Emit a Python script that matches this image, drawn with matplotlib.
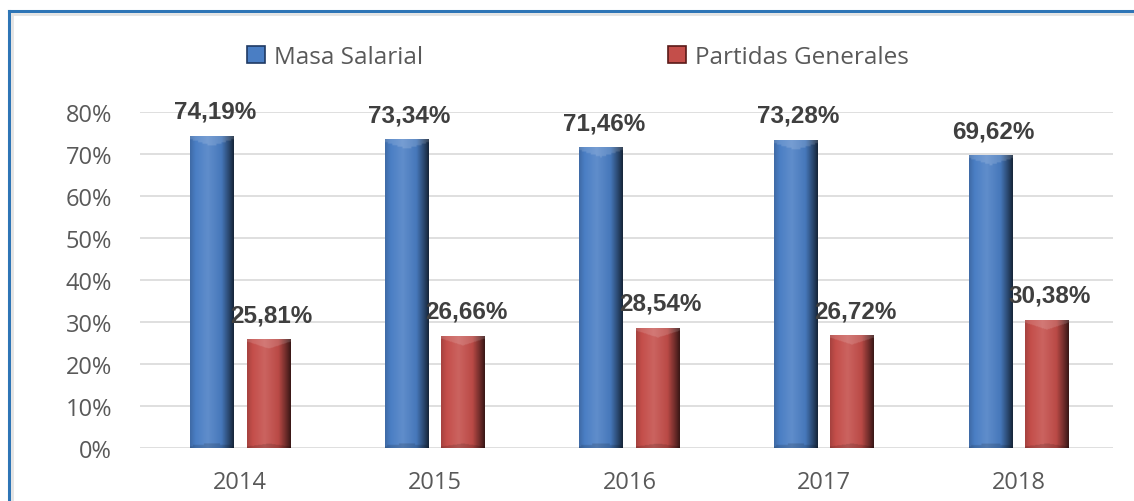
import numpy as np
import matplotlib
matplotlib.use("Agg")
import matplotlib.pyplot as plt
from matplotlib.colors import LinearSegmentedColormap, to_rgb
from matplotlib.patches import Patch
from matplotlib.lines import Line2D

# ---- data ----
years = ["2014", "2015", "2016", "2017", "2018"]
masa_salarial = [74.19, 73.34, 71.46, 73.28, 69.62]
partidas_generales = [25.81, 26.66, 28.54, 26.72, 30.38]
series_names = ["Masa Salarial", "Partidas Generales"]
y_ticks = [0, 10, 20, 30, 40, 50, 60, 70, 80]

BLUE = "#4A7EC4"
RED = "#C44E4A"
TXT = "#595959"
LBL = "#3F3F3F"

W, H = 1134, 502
fig = plt.figure(figsize=(W / 100, H / 100), dpi=100)
ax = fig.add_axes([140 / W, (H - 449) / H, 973 / W, 336 / H])

x = np.arange(len(years))
bw = 0.225
off = 0.145
bars1 = ax.bar(x - off, masa_salarial, bw, color=BLUE, zorder=2)
bars2 = ax.bar(x + off, partidas_generales, bw, color=RED, zorder=2)


def shade(c, f):
    r = np.array(to_rgb(c))
    if f >= 1:
        return tuple(r + (1 - r) * (f - 1))
    return tuple(r * f)


def make_cmap(c):
    stops = [(0.0, shade(c, 0.85)), (0.12, shade(c, 1.0)), (0.4, shade(c, 1.12)),
             (0.72, shade(c, 0.95)), (0.9, shade(c, 0.55)), (1.0, shade(c, 0.3))]
    return LinearSegmentedColormap.from_list("g", stops)


def gradient_bars(bars, c):
    cmap = make_cmap(c)
    ncol = 60
    t = np.linspace(0, 1, ncol)
    base = cmap(t)[:, :3]
    for b in bars:
        x0, y0, w, h = b.get_x(), b.get_y(), b.get_width(), b.get_height()
        nrow = 200
        yy = np.linspace(y0 + h, y0, nrow)  # top row first
        img = np.tile(base, (nrow, 1, 1))
        d = (y0 + h) - yy
        bev = 2.2
        prof = 1 - np.abs(2 * t - 1)
        mask = d[:, None] < bev * (0.25 + 0.75 * prof[None, :])
        img[mask] = img[mask] + (1 - img[mask]) * 0.14
        dbot = yy - y0
        maskb = dbot[:, None] < 1.0 * (0.3 + 0.7 * prof[None, :])
        img[maskb] = img[maskb] * 0.85
        ax.imshow(img, extent=[x0, x0 + w, y0, y0 + h], aspect="auto",
                  zorder=2.5, interpolation="bilinear")


gradient_bars(bars1, BLUE)
gradient_bars(bars2, RED)


def fmt(v):
    return f"{v:.2f}%".replace(".", ",")


for bars, vals in ((bars1, masa_salarial), (bars2, partidas_generales)):
    for b, v in zip(bars, vals):
        ax.annotate(fmt(v), (b.get_x() + b.get_width() / 2, v),
                    xytext=(2, 18), textcoords="offset points",
                    ha="center", va="center", fontsize=17.5, fontweight="bold",
                    color=LBL, family="Liberation Sans", zorder=4)

ax.set_xlim(-0.515, len(years) - 0.515)
ax.set_ylim(0, 80)
ax.set_yticks(y_ticks)
ax.set_yticklabels([f"{v}%" for v in y_ticks])
ax.set_xticks(x)
ax.set_xticklabels(years)
ax.tick_params(axis="both", length=0, colors=TXT, labelsize=17)
ax.tick_params(axis="y", pad=20)
ax.tick_params(axis="x", pad=16)
for lab in ax.get_xticklabels() + ax.get_yticklabels():
    lab.set_family("Open Sans")
ax.grid(axis="y", color="#D9D9D9", linewidth=1.2, zorder=0)
ax.set_axisbelow(True)
for s in ax.spines.values():
    s.set_visible(False)

handles = [Patch(facecolor=BLUE, edgecolor="#1F3A63", linewidth=1.2),
           Patch(facecolor=RED, edgecolor="#5A1A18", linewidth=1.2)]
fig.legend(handles, series_names, loc="center", bbox_to_anchor=(578 / W, 1 - 58 / H),
           ncol=2, frameon=False, handlelength=0.72, handleheight=0.72,
           handletextpad=0.37, columnspacing=10.1, labelcolor=TXT,
           prop={"family": "Open Sans", "size": 17.5})

# figure border (blue frame with soft gray inner shadow)
fig.add_artist(Line2D([8.5 / W, 8.5 / W], [0, 1 - 12 / H], transform=fig.transFigure,
                      color="#2E75B6", linewidth=2.2))
fig.add_artist(Line2D([8.5 / W, 1], [1 - 12 / H, 1 - 12 / H], transform=fig.transFigure,
                      color="#2E75B6", linewidth=2.2))
fig.add_artist(Line2D([11.5 / W, 11.5 / W], [0, 1 - 15 / H], transform=fig.transFigure,
                      color="#E3E3E3", linewidth=2.0))
fig.add_artist(Line2D([11.5 / W, 1], [1 - 15 / H, 1 - 15 / H], transform=fig.transFigure,
                      color="#E3E3E3", linewidth=2.0))

fig.savefig("out.png", dpi=100, facecolor="white")
